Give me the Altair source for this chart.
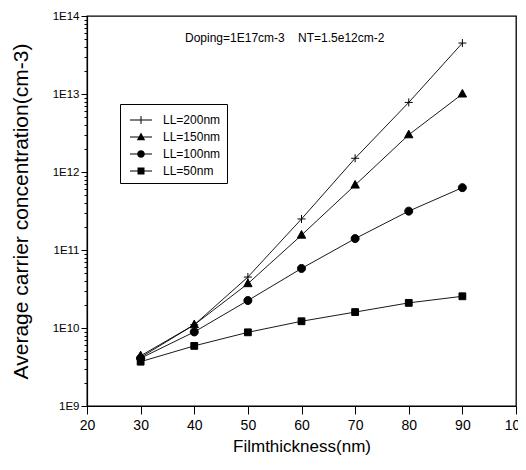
import altair as alt
import pandas as pd

# ---- data ----
thickness = [30, 40, 50, 60, 70, 80, 90]
ll200 = [4.2e9, 1.1e10, 4.5e10, 2.5e11, 1.5e12, 7.8e12, 4.5e13]
ll150 = [4.4e9, 1.1e10, 3.7e10, 1.55e11, 6.8e11, 3.0e12, 1.0e13]
ll100 = [4.1e9, 8.9e9, 2.25e10, 5.8e10, 1.4e11, 3.15e11, 6.3e11]
ll50 = [3.7e9, 5.9e9, 8.8e9, 1.22e10, 1.6e10, 2.1e10, 2.55e10]
series_names = ["LL=200nm", "LL=150nm", "LL=100nm", "LL=50nm"]
series_values = [ll200, ll150, ll100, ll50]

x_ticks = [20, 25, 30, 35, 40, 45, 50, 55, 60, 65, 70, 75, 80, 85, 90, 95, 100]
y_decades = [1e9, 1e10, 1e11, 1e12, 1e13, 1e14]
y_minor_mult = [2, 3, 4, 5, 6, 7, 8, 9]
annotation = "Doping=1E17cm-3\u00a0\u00a0\u00a0\u00a0NT=1.5e12cm-2"
x_title = "Filmthickness(nm)"
y_title = "Average carrier concentration(cm-3)"

rows = []
for name, vals in zip(series_names, series_values):
    for t, v in zip(thickness, vals):
        rows.append({"series": name, "thickness": t, "conc": v})
df = pd.DataFrame(rows)

y_ticks = sorted(y_decades + [m * d for d in y_decades[:-1] for m in y_minor_mult])

plot_shapes = [
    "M-1,0H1M0,-1V1",
    "M0,-1.15L1.05,0.75L-1.05,0.75Z",
    "M1,0A1,1,0,1,1,-1,0A1,1,0,1,1,1,0Z",
    "M-0.85,-0.85H0.85V0.85H-0.85Z",
]
# legend symbols: a thin filled bar (the line) plus the marker, all fill-only
LEG_LINE = "M-0.6,-0.05H1.6V0.05H-0.6Z"
legend_shapes = [
    LEG_LINE + "M0.45,-0.4H0.55V0.4H0.45Z",
    LEG_LINE + "M0.5,-0.45L0.92,0.32L0.08,0.32Z",
    LEG_LINE + "M0.88,0A0.38,0.38,0,1,1,0.12,0A0.38,0.38,0,1,1,0.88,0Z",
    LEG_LINE + "M0.15,-0.35H0.85V0.35H0.15Z",
]

FONT = "Liberation Sans"

is_decade = "abs(log(datum.value)/LN10 - round(log(datum.value)/LN10)) < 0.001"

x_enc = alt.X(
    "thickness:Q",
    scale=alt.Scale(domain=[20, 100], nice=False),
    axis=alt.Axis(
        values=x_ticks,
        labelExpr="datum.value % 10 == 0 ? datum.label : ''",
        tickSize={"condition": {"test": "datum.value % 10 == 0", "value": 8}, "value": 4},
        title=x_title,
        titleFont=FONT,
        titleFontSize=17,
        titleFontWeight="normal",
        titlePadding=6,
        labelFont=FONT,
        labelFontSize=14,
        labelPadding=4,
        labelFlush=False,
        labelOverlap=False,
        grid=False,
        format="d",
    ),
)
y_enc = alt.Y(
    "conc:Q",
    scale=alt.Scale(type="log", domain=[1e9, 1e14], nice=False),
    axis=alt.Axis(
        values=y_ticks,
        labelExpr=is_decade + " ? '1E' + round(log(datum.value)/LN10) : ''",
        tickSize={"condition": {"test": is_decade, "value": 6}, "value": 3},
        title=y_title,
        titleFont=FONT,
        titleFontSize=21,
        titleFontWeight="normal",
        titlePadding=21,
        labelFont=FONT,
        labelFontSize=11.5,
        labelPadding=2,
        labelFlush=False,
        labelOverlap=False,
        grid=False,
    ),
)

base = alt.Chart(df)

lines = base.mark_line(color="black", strokeWidth=0.9).encode(
    x=x_enc, y=y_enc, detail="series:N", order="thickness:Q"
)

points = base.mark_point(filled=True, color="black", stroke="black", strokeWidth=1, size=64, opacity=1).encode(
    x="thickness:Q",
    y="conc:Q",
    shape=alt.Shape("series:N", scale=alt.Scale(domain=series_names, range=plot_shapes), legend=None),
)

legend_layer = base.mark_point(filled=True, color="black", opacity=0, size=10).encode(
    x="thickness:Q",
    y="conc:Q",
    shape=alt.Shape(
        "series:N",
        scale=alt.Scale(domain=series_names, range=legend_shapes),
        legend=alt.Legend(
            title=None,
            orient="none",
            legendX=33,
            legendY=88,
            padding=6,
            rowPadding=1,
            strokeColor="black",
            symbolSize=400,
            symbolOpacity=1,
            symbolFillColor="black",
            symbolStrokeWidth=0,
            labelFont=FONT,
            labelFontSize=12,
            labelOffset=17,
        ),
    ),
)

text = alt.Chart(pd.DataFrame({"t": [annotation]})).mark_text(
    align="left", baseline="middle", font=FONT, fontSize=12, color="black"
).encode(text="t:N", x=alt.value(98), y=alt.value(22))

chart = (
    alt.layer(lines, points, legend_layer, text)
    .resolve_scale(shape="independent")
    .properties(
        width=429,
        height=390,
        autosize=alt.AutoSizeParams(type="none"),
        padding={"left": 79, "top": 8, "right": 2, "bottom": 49},
        background="white",
    )
    .configure_view(stroke="black", strokeWidth=1.3)
    .configure_axis(domainColor="black", domainWidth=1.2, tickColor="black", tickWidth=1,
                    labelColor="black", titleColor="black")
)

chart.save("out.html", embed_options={"renderer": "svg", "actions": False})
